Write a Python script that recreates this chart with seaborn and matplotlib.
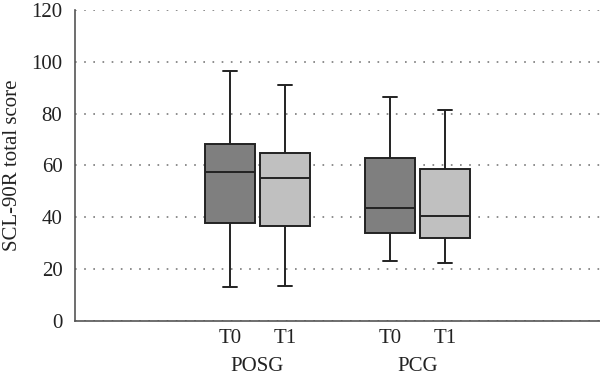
import matplotlib
matplotlib.use("Agg")
import matplotlib.pyplot as plt
import pandas as pd
import seaborn as sns

# five-number summaries: min, Q1, median, Q3, max
posg_t0 = [13.2, 37.8, 57.6, 68.3, 96.4]
posg_t1 = [13.5, 36.6, 55.2, 64.9, 91.1]
pcg_t0 = [23.3, 34.1, 43.7, 62.9, 86.5]
pcg_t1 = [22.3, 32.2, 40.5, 58.6, 81.5]

groups = ["POSG", "PCG"]
times = ["T0", "T1"]

rows = []
for g, t, vals in [("POSG", "T0", posg_t0), ("POSG", "T1", posg_t1),
                   ("PCG", "T0", pcg_t0), ("PCG", "T1", pcg_t1)]:
    for v in vals:
        rows.append({"group": g, "time": t, "score": v})
df = pd.DataFrame(rows)

sns.set_style("white")
plt.rcParams["font.family"] = ["Liberation Serif", "DejaVu Serif"]

fig = plt.figure(figsize=(6, 3.79), dpi=100)
ax = fig.add_axes([0.125, 0.153, 0.875, 0.821])

edge = "#222222"
sns.boxplot(data=df, x="group", y="score", hue="time", order=groups,
            hue_order=times, palette=["#7f7f7f", "#c0c0c0"], width=0.69,
            gap=0.1, whis=(0, 100), linewidth=1.4, linecolor=edge,
            legend=False, ax=ax, capwidths=0.09,
            medianprops={"color": edge, "linewidth": 1.4})

ax.set_xlim(-1.14, 2.14)
ax.set_ylim(0, 120)
ax.set_yticks(range(0, 121, 20))
ax.set_axisbelow(True)
ax.yaxis.grid(True, linestyle=(0, (1, 4.5)), color="#7a7a7a", linewidth=1.2)
ax.xaxis.grid(False)

for s in ["top", "right"]:
    ax.spines[s].set_visible(False)
for s in ["left", "bottom"]:
    ax.spines[s].set_color("#555555")
    ax.spines[s].set_linewidth(1.2)

# tick labels under each box
centers = []
for p in ax.patches:
    verts = p.get_path().vertices
    centers.append((verts[:, 0].min() + verts[:, 0].max()) / 2)
centers = sorted(centers)
ax.set_xticks(centers, times * len(groups))
ax.tick_params(axis="both", length=0, labelsize=15, colors="#222222")
ax.tick_params(axis="x", pad=6)
ax.tick_params(axis="y", pad=9)

for i, g in enumerate(groups):
    ax.annotate(g, xy=(i, 0), xycoords=("data", "axes fraction"),
                xytext=(0, -26), textcoords="offset points",
                ha="center", va="top", fontsize=15, color="#222222")

ax.set_xlabel("")
ax.set_ylabel("SCL-90R total score", fontsize=15, color="#222222", labelpad=7)

fig.savefig("out.png", dpi=100)
